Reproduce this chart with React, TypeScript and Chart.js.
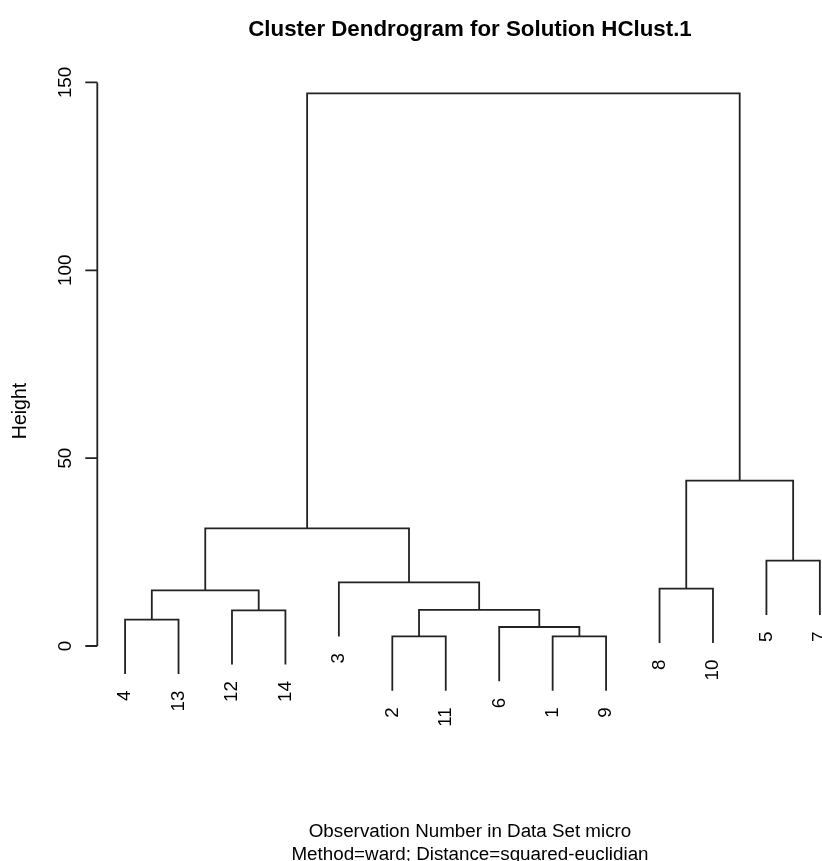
import React, { useEffect, useRef } from "react";
import { Chart, registerables } from "chart.js";

Chart.register(...registerables);

// ---- text ----
const chartTitle = "Cluster Dendrogram for Solution HClust.1";
const xTitle = "Observation Number in Data Set micro";
const subTitle = "Method=ward; Distance=squared-euclidian";
const yTitle = "Height";

// ---- data (R hclust style: negative = observation, positive = earlier merge) ----
const leafOrder = [4, 13, 12, 14, 3, 2, 11, 6, 1, 9, 8, 10, 5, 7];
const mergeLeft = [-2, -1, -6, -4, -12, 1, 4, -8, -3, -5, 7, 8, 11];
const mergeRight = [-11, -9, 2, -13, -14, 3, 5, -10, 6, -7, 9, 10, 12];
const mergeHeight = [2.55, 2.55, 5.05, 7.0, 9.5, 9.6, 14.8, 15.25, 16.95, 22.7, 31.3, 44.0, 147.1];
const yTicks = [0, 50, 100, 150];
const hangFraction = 0.1;

const LINE = "#222222";
const FONT = '"Liberation Sans", Arial, sans-serif';

function buildTree() {
  const maxH = Math.max(...mergeHeight);
  const minH = Math.min(...mergeHeight);
  const hang = hangFraction * (maxH - minH);
  const nodeX: number[] = [];
  const leafBottom: Record<number, number> = {};
  const segments: { x: number; y: number }[][] = [];
  const leafPos = (obs: number) => leafOrder.indexOf(obs);
  for (let i = 0; i < mergeHeight.length; i++) {
    const h = mergeHeight[i];
    const l = mergeLeft[i];
    const r = mergeRight[i];
    const cx = (c: number) => (c < 0 ? leafPos(-c) : nodeX[c - 1]);
    const cy = (c: number) => (c < 0 ? h - hang : mergeHeight[c - 1]);
    if (l < 0) leafBottom[-l] = h - hang;
    if (r < 0) leafBottom[-r] = h - hang;
    const xl = cx(l);
    const xr = cx(r);
    nodeX[i] = (xl + xr) / 2;
    const first = xl <= xr ? l : r;
    const second = xl <= xr ? r : l;
    const x1 = Math.min(xl, xr);
    const x2 = Math.max(xl, xr);
    segments.push([
      { x: x1, y: cy(first) },
      { x: x1, y: h },
      { x: x2, y: h },
      { x: x2, y: cy(second) },
    ]);
  }
  return { segments, leafBottom };
}

const textPlugin = {
  id: "dendroText",
  afterDraw(chart: any, _args: any, opts: any) {
    const ctx: CanvasRenderingContext2D = chart.ctx;
    const xs = chart.scales.x;
    const ys = chart.scales.y;
    const leafBottom = opts.leafBottom as Record<number, number>;
    const ax = chart.chartArea.left;
    ctx.save();
    // y axis
    ctx.strokeStyle = LINE;
    ctx.lineWidth = 1.8;
    ctx.beginPath();
    ctx.moveTo(ax, ys.getPixelForValue(yTicks[0]));
    ctx.lineTo(ax, ys.getPixelForValue(yTicks[yTicks.length - 1]));
    for (const t of yTicks) {
      const py = ys.getPixelForValue(t);
      ctx.moveTo(ax, py);
      ctx.lineTo(ax - 12, py);
    }
    ctx.stroke();

    ctx.fillStyle = "#000";
    ctx.font = `18.8px ${FONT}`;
    for (const t of yTicks) {
      const py = ys.getPixelForValue(t);
      ctx.save();
      ctx.translate(ax - 26.8, py);
      ctx.rotate(-Math.PI / 2);
      ctx.textAlign = "center";
      ctx.textBaseline = "alphabetic";
      ctx.fillText(String(t), 0, 0);
      ctx.restore();
    }

    // y title
    ctx.save();
    ctx.font = `19.5px ${FONT}`;
    ctx.translate(25.5, 411);
    ctx.rotate(-Math.PI / 2);
    ctx.textAlign = "center";
    ctx.textBaseline = "alphabetic";
    ctx.fillText(yTitle, 0, 0);
    ctx.restore();

    // leaf labels
    leafOrder.forEach((obs, idx) => {
      const px = xs.getPixelForValue(idx);
      const py = ys.getPixelForValue(leafBottom[obs]);
      ctx.save();
      ctx.translate(px + 5.4, py + 16.5);
      ctx.rotate(-Math.PI / 2);
      ctx.textAlign = "right";
      ctx.textBaseline = "alphabetic";
      ctx.fillText(String(obs), 0, 0);
      ctx.restore();
    });

    // bottom titles
    ctx.textAlign = "center";
    ctx.textBaseline = "alphabetic";
    ctx.fillText(xTitle, 470, 837.3);
    ctx.fillText(subTitle, 470, 859.5);

    // main title
    ctx.font = `bold 22.3px ${FONT}`;
    ctx.fillText(chartTitle, 470, 36);
    ctx.restore();
  },
};

export default function App() {
  const ref = useRef<HTMLCanvasElement | null>(null);
  useEffect(() => {
    if (!ref.current) return;
    const { segments, leafBottom } = buildTree();
    const chart = new Chart(ref.current, {
      type: "scatter",
      data: {
        datasets: segments.map((pts, i) => ({
          label: `merge ${i + 1}`,
          data: pts,
          showLine: true,
          borderColor: LINE,
          borderWidth: 1.8,
          pointRadius: 0,
          pointHoverRadius: 0,
          fill: false,
          tension: 0,
          clip: false as any,
        })),
      },
      options: {
        responsive: false,
        devicePixelRatio: 1,
        animation: false,
        layout: { padding: { left: 97.3, top: 69.3, right: 0, bottom: 145.5 } },
        scales: {
          x: { type: "linear", min: -0.52, max: 13.04, display: false },
          y: { type: "linear", min: -18.5, max: 153.5, display: false },
        },
        plugins: {
          legend: { display: false },
          tooltip: { enabled: false },
          dendroText: { leafBottom },
        } as any,
      },
      plugins: [textPlugin as any],
    });
    return () => chart.destroy();
  }, []);
  return (
    <div style={{ position: "absolute", left: 0, top: 0, width: 822, height: 861, overflow: "hidden", background: "#fff" }}>
      <canvas ref={ref} width={822} height={861} style={{ width: 822, height: 861, display: "block" }} />
    </div>
  );
}
